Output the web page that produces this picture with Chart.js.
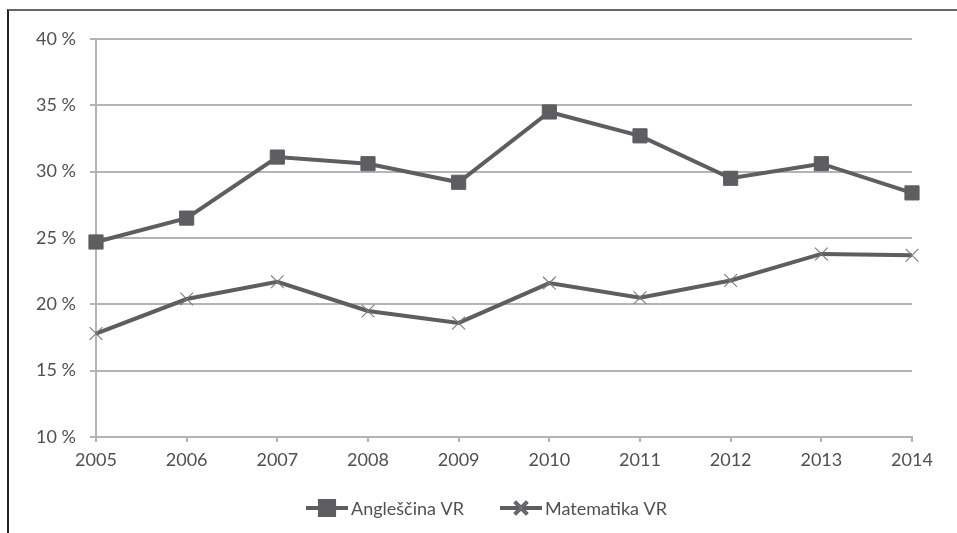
<!DOCTYPE html>
<html>
<head>
<meta charset="utf-8">
<script src="https://cdn.jsdelivr.net/npm/chart.js@4/dist/chart.umd.min.js"></script>
<style>
  html, body { margin: 0; padding: 0; background: #fff; }
  #wrap { position: relative; width: 957px; height: 533px; }
  #frame { position: absolute; left: 7px; top: 9px; right: 0; bottom: 0;
           border-left: 2px solid #222; border-top: 2px solid #666; }
  canvas { position: absolute; left: 0; top: 0; }
</style>
</head>
<body>
<div id="wrap">
  <div id="frame"></div>
  <canvas id="chart" width="957" height="533"></canvas>
</div>
<script>
const years = ["2005", "2006", "2007", "2008", "2009", "2010", "2011", "2012", "2013", "2014"];
const anglescina = [24.7, 26.5, 31.1, 30.6, 29.2, 34.5, 32.7, 29.5, 30.6, 28.4];
const matematika = [17.8, 20.4, 21.7, 19.5, 18.6, 21.6, 20.5, 21.8, 23.8, 23.7];
const yMin = 10, yMax = 40, yStep = 5;

const textColor = "#505050";
const gridColor = "#b4b4b4";
const fontFamily = "Lato, 'Open Sans', sans-serif";

// legend drawn by hand: Excel style, line with the marker in the middle
const lineLegend = {
  id: "lineLegend",
  afterDraw(chart) {
    const c = chart.ctx;
    const y = 508;
    const items = [
      { ds: chart.data.datasets[0], x: 306 },
      { ds: chart.data.datasets[1], x: 500 }
    ];
    c.save();
    c.font = "18px " + fontFamily;
    c.textBaseline = "middle";
    items.forEach(it => {
      c.strokeStyle = it.ds.borderColor;
      c.lineWidth = 4;
      c.beginPath();
      c.moveTo(it.x, y);
      c.lineTo(it.x + 42, y);
      c.stroke();
      Chart.helpers.drawPoint(c, {
        pointStyle: it.ds.pointStyle,
        radius: it.ds.pointRadius,
        borderWidth: it.ds.pointBorderWidth
      }, it.x + 21, y);
      if (it.ds.pointStyle === "rect") {
        c.fillStyle = it.ds.pointBackgroundColor;
        c.fill();
      }
      c.strokeStyle = it.ds.pointBorderColor;
      c.lineWidth = it.ds.pointBorderWidth;
      c.stroke();
      c.fillStyle = textColor;
      c.fillText(it.ds.label, it.x + 45, y + 1);
    });
    c.restore();
  }
};

new Chart(document.getElementById("chart"), {
  type: "line",
  data: {
    labels: years,
    datasets: [
      {
        label: "Angleščina VR",
        data: anglescina,
        borderColor: "#5d5d62",
        borderWidth: 4,
        pointStyle: "rect",
        pointRadius: 10,
        pointBackgroundColor: "#5d5d62",
        pointBorderColor: "#5d5d62",
        pointBorderWidth: 1,
        tension: 0
      },
      {
        label: "Matematika VR",
        data: matematika,
        borderColor: "#5d5d62",
        borderWidth: 4,
        pointStyle: "crossRot",
        pointRadius: 9,
        pointBorderColor: "#7a7a7e",
        pointBorderWidth: 1.1,
        tension: 0
      }
    ]
  },
  options: {
    responsive: false,
    animation: false,
    layout: { padding: { left: 0, top: 39, right: 45, bottom: 43 } },
    plugins: { legend: { display: false }, tooltip: { enabled: false } },
    scales: {
      x: {
        offset: false,
        grid: { drawOnChartArea: false, drawTicks: true, tickLength: 5, color: gridColor, lineWidth: 2 },
        border: { color: gridColor, width: 2 },
        ticks: { color: textColor, font: { family: fontFamily, size: 18 }, padding: 7, maxRotation: 0 },
        afterFit: s => { s.height = 53; }
      },
      y: {
        min: yMin,
        max: yMax,
        grid: { color: gridColor, lineWidth: 2, tickLength: 6 },
        border: { color: gridColor, width: 2 },
        ticks: {
          stepSize: yStep,
          color: textColor,
          font: { family: fontFamily, size: 18 },
          padding: 14,
          callback: v => v + " %"
        },
        afterFit: s => { s.width = 96; }
      }
    }
  },
  plugins: [lineLegend]
});
</script>
</body>
</html>
